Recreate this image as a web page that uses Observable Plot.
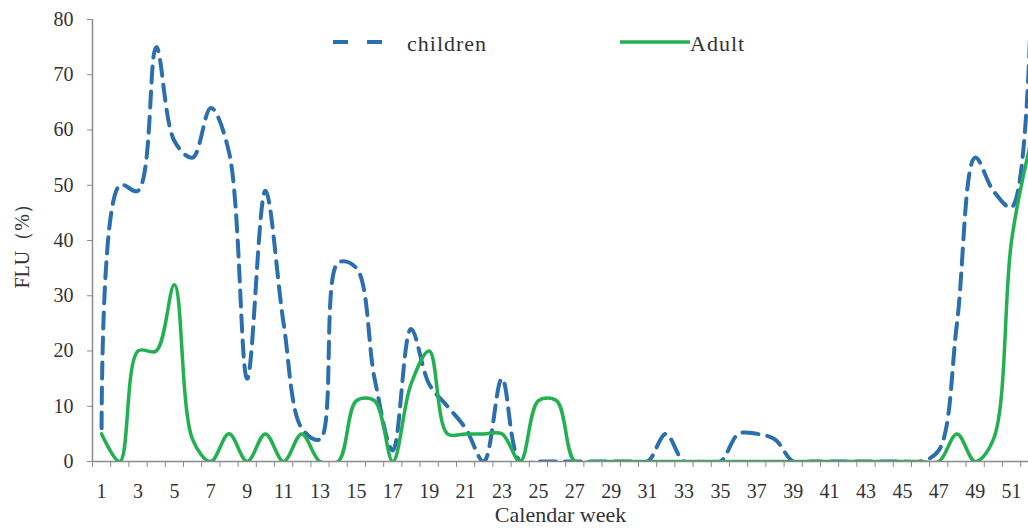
<!DOCTYPE html>
<html>
<head>
<meta charset="utf-8">
<script src="https://cdn.jsdelivr.net/npm/d3@7"></script>
<script src="https://cdn.jsdelivr.net/npm/@observablehq/plot@0.6"></script>
<style>
  html, body { margin: 0; padding: 0; background: #fff; }
  #wrap { position: relative; width: 1028px; height: 531px; overflow: hidden; }
  .leg { position: absolute; font-family: "Liberation Serif", serif; font-size: 22px; line-height: 22px; letter-spacing: 1px; color: #333; white-space: nowrap; }
  .legsw { position: absolute; }
</style>
</head>
<body>
<div id="wrap"></div>
<script>
const weeks = [1,2,3,4,5,6,7,8,9,10,11,12,13,14,15,16,17,18,19,20,21,22,23,24,25,26,27,28,29,30,31,32,33,34,35,36,37,38,39,40,41,42,43,44,45,46,47,48,49,50,51,52];
const children = [6,50,49,75,58,55,64,56,15,49, 25,6,4,36,35,15,2,24,14,10, 6,0,15,0,0,0,0,0,0,0, 0,5,0,0,0,5,5,4,0,0, 0,0,0,0,0,0,2,25,55,49, 46,76];
const adult = [5,0,20,20,32,4,0,5,0,5, 0,5,0,0,11,11,0,14,20,5, 5,5,5,0,11,11,0,0,0,0, 0,0,0,0,0,0,0,0,0,0, 0,0,0,0,0,0,0,5,0,4, 40,57];
const xTickLabels = [1,3,5,7,9,11,13,15,17,19,21,23,25,27,29,31,33,35,37,39,41,43,45,47,49,51];
const xTickBounds = [0.5,1.5,2.5,3.5,4.5,5.5,6.5,7.5,8.5,9.5,10.5,11.5,12.5,13.5,14.5,15.5,16.5,17.5,18.5,19.5,20.5,21.5,22.5,23.5,24.5,25.5,26.5,27.5,28.5,29.5,30.5,31.5,32.5,33.5,34.5,35.5,36.5,37.5,38.5,39.5,40.5,41.5,42.5,43.5,44.5,45.5,46.5,47.5,48.5,49.5,50.5,51.5];
const yTicks = [0,10,20,30,40,50,60,70,80];
const seriesNames = ["children", "Adult"];
const seriesColors = ["#2b6fae", "#22b050"];

const rowsC = weeks.map((w, i) => ({week: w, value: children[i]}));
const rowsA = weeks.map((w, i) => ({week: w, value: adult[i]}));

const axisColor = "#8a8a8a";

const chart = Plot.plot({
  width: 1028,
  height: 531,
  marginLeft: 92,
  marginRight: 0,
  marginTop: 19,
  marginBottom: 70,
  style: { fontFamily: "Liberation Serif, serif", fontSize: "20px", color: "#333", background: "#fff" },
  x: { type: "linear", domain: [0.5, 51.93] },
  y: { domain: [0, 80] },
  marks: [
    Plot.line(rowsC, { x: "week", y: "value", curve: "catmull-rom", stroke: seriesColors[0], strokeWidth: 4, strokeDasharray: "16,9", clip: true }),
    Plot.line(rowsA, { x: "week", y: "value", curve: "catmull-rom", stroke: seriesColors[1], strokeWidth: 3.5, clip: true }),
    Plot.ruleY([0], { stroke: axisColor, strokeWidth: 1.5 }),
    Plot.ruleX([0.5], { y1: 0, y2: 80, stroke: axisColor, strokeWidth: 1.5 }),
    Plot.axisY(yTicks, { anchor: "left", tickSize: 5, tickPadding: 14, stroke: axisColor, label: null, fontSize: 20 }),
    Plot.axisX(xTickBounds, { anchor: "bottom", tickSize: 6, tickFormat: () => "", stroke: axisColor, label: null }),
    Plot.axisX(xTickLabels, { anchor: "bottom", tickSize: 0, tickPadding: 22, label: null, fontSize: 20 }),
    Plot.text(["Calendar week"], { frameAnchor: "bottom", dy: 60, fontSize: 22, letterSpacing: 1, fill: "#333", text: d => d }),
    Plot.text(["FLU（%）"], { frameAnchor: "left", dx: -70, dy: 48, rotate: -90, fontSize: 20, fill: "#333", text: d => d })
  ]
});

const wrap = document.getElementById("wrap");
wrap.appendChild(chart);

// legend overlay
function swatch(left, top, w, color, dash, sw) {
  const ns = "http://www.w3.org/2000/svg";
  const s = document.createElementNS(ns, "svg");
  s.setAttribute("width", w); s.setAttribute("height", 10);
  s.setAttribute("class", "legsw");
  s.style.left = left + "px"; s.style.top = top + "px";
  const l = document.createElementNS(ns, "line");
  l.setAttribute("x1", 0); l.setAttribute("x2", w);
  l.setAttribute("y1", 5); l.setAttribute("y2", 5);
  l.setAttribute("stroke", color); l.setAttribute("stroke-width", sw);
  if (dash) l.setAttribute("stroke-dasharray", dash);
  s.appendChild(l);
  wrap.appendChild(s);
}
function label(left, top, txt) {
  const d = document.createElement("div");
  d.className = "leg";
  d.style.left = left + "px"; d.style.top = top + "px";
  d.textContent = txt;
  wrap.appendChild(d);
}
swatch(333, 37, 50, seriesColors[0], "15,19", 4);
label(407, 33, seriesNames[0]);
swatch(620, 37, 70, seriesColors[1], null, 3.5);
label(690, 33, seriesNames[1]);
</script>
</body>
</html>
